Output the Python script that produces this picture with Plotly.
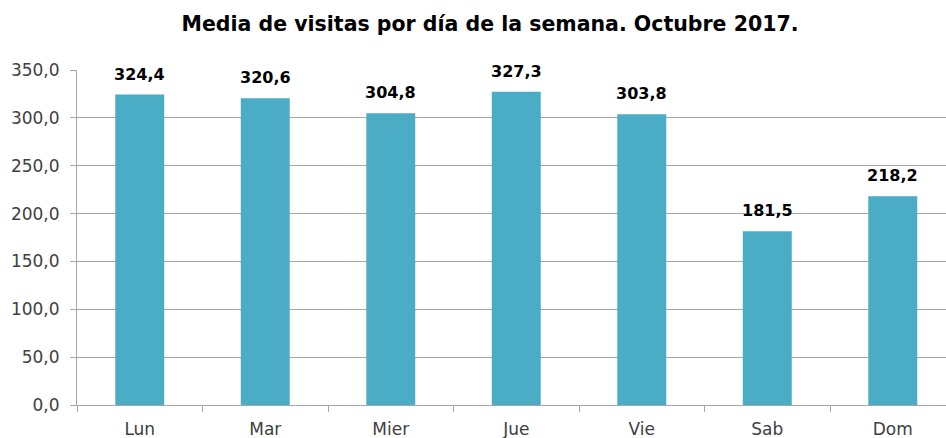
import plotly.graph_objects as go

days = ["Lun", "Mar", "Mier", "Jue", "Vie", "Sab", "Dom"]
visits = [324.4, 320.6, 304.8, 327.3, 303.8, 181.5, 218.2]
y_ticks = [0, 50, 100, 150, 200, 250, 300, 350]

BAR_COLOR = "#4BACC6"
GRID_COLOR = "#A6A6A6"
FONT = "DejaVu Sans"

fig = go.Figure()
fig.add_trace(
    go.Bar(
        x=days,
        y=visits,
        marker=dict(color=BAR_COLOR, line=dict(width=0)),
    )
)

# value labels above each bar
for day, value in zip(days, visits):
    fig.add_annotation(
        x=day,
        y=value,
        text="<b>" + f"{value:.1f}".replace(".", ",") + "</b>",
        showarrow=False,
        yanchor="bottom",
        yshift=9,
        font=dict(family=FONT, size=16, color="black"),
    )

fig.update_layout(
    width=946,
    height=438,
    separators=",.",
    plot_bgcolor="white",
    paper_bgcolor="white",
    showlegend=False,
    bargap=0.61,
    margin=dict(l=77, r=0, t=70, b=33, autoexpand=False),
    title=dict(
        text="<b>Media de visitas por día de la semana. Octubre 2017.</b>",
        x=0.518,
        xanchor="center",
        y=0.946,
        yanchor="middle",
        font=dict(family=FONT, size=20.5, color="black"),
    ),
    xaxis=dict(
        type="category",
        range=[-0.5, 6.424],
        automargin=False,
        tickson="boundaries",
        ticks="outside",
        ticklen=6,
        tickcolor=GRID_COLOR,
        ticklabelstandoff=9,
        showline=True,
        linecolor=GRID_COLOR,
        linewidth=1,
        tickfont=dict(family=FONT, size=17, color="#404040"),
    ),
    yaxis=dict(
        range=[0, 350],
        automargin=False,
        tickvals=y_ticks,
        tickformat=".1f",
        ticks="outside",
        ticklen=6,
        tickcolor=GRID_COLOR,
        ticklabelstandoff=7,
        showline=True,
        linecolor=GRID_COLOR,
        showgrid=True,
        gridcolor=GRID_COLOR,
        gridwidth=1,
        zeroline=False,
        tickfont=dict(family=FONT, size=17, color="#404040"),
    ),
)

fig.write_html(
    "out.html",
    config={"displayModeBar": False},
    post_script="document.body.style.margin='0';document.body.style.overflow='hidden';",
)
